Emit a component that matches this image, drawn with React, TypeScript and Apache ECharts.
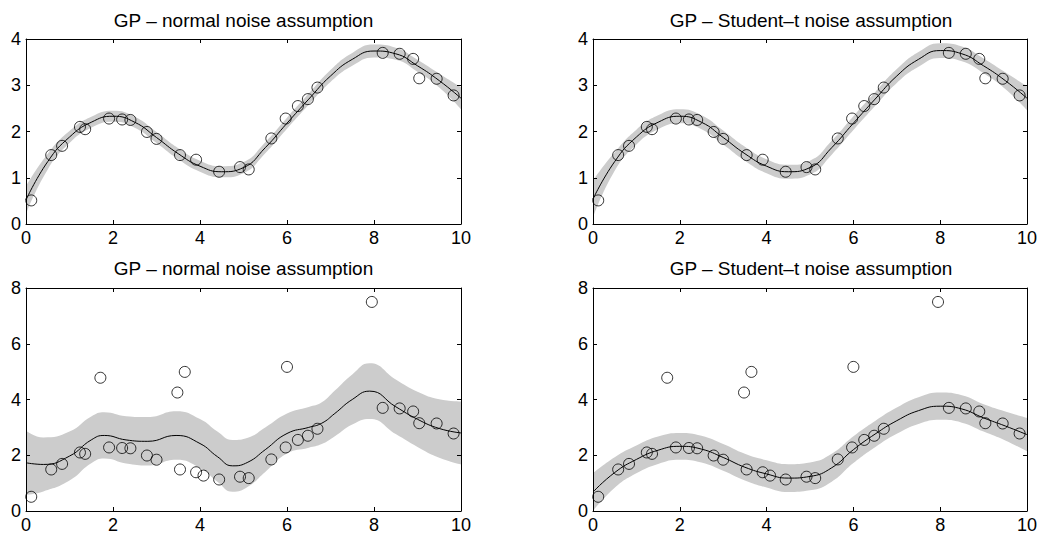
import React, { useEffect, useRef } from "react";
import * as echarts from "echarts";

// ---- data ----
const panelTitles = [
  "GP – normal noise assumption",
  "GP – Student–t noise assumption",
  "GP – normal noise assumption",
  "GP – Student–t noise assumption",
];
const xTicks = [0, 2, 4, 6, 8, 10];
const yTicksTop = [0, 1, 2, 3, 4];
const yTicksBottom = [0, 2, 4, 6, 8];

// observations (clean data set)
const cleanX = [0.12, 0.58, 0.83, 1.24, 1.36, 1.91, 2.21, 2.40, 2.78, 3.00, 3.54, 3.91, 4.44, 4.92, 5.12, 5.64, 5.97, 6.25, 6.48, 6.70, 8.20, 8.59, 8.90, 9.04, 9.44, 9.83];
const cleanY = [0.51, 1.49, 1.69, 2.10, 2.05, 2.28, 2.26, 2.25, 1.99, 1.84, 1.49, 1.39, 1.13, 1.23, 1.18, 1.85, 2.28, 2.55, 2.70, 2.95, 3.70, 3.68, 3.57, 3.15, 3.14, 2.78];
// extra observations in the contaminated data set
const extraX = [4.08];
const extraY = [1.27];
const outlierX = [1.71, 3.48, 3.65, 6.00, 7.95];
const outlierY = [4.78, 4.25, 4.99, 5.17, 7.50];

// posterior curves
const xKnots = [0, 0.5, 1, 1.5, 2, 2.5, 3, 3.5, 4, 4.5, 5, 5.5, 6, 6.5, 7, 7.5, 8, 8.5, 9, 9.5, 10];
const meanTopNormal = [0.52, 1.35, 1.88, 2.2, 2.33, 2.2, 1.87, 1.52, 1.25, 1.13, 1.22, 1.65, 2.18, 2.7, 3.2, 3.56, 3.74, 3.68, 3.42, 3.1, 2.72];
const halfTopNormal = [0.3, 0.17, 0.13, 0.12, 0.12, 0.12, 0.12, 0.12, 0.12, 0.12, 0.12, 0.12, 0.12, 0.12, 0.13, 0.14, 0.14, 0.13, 0.13, 0.15, 0.24];
const meanTopStudent = [0.54, 1.35, 1.88, 2.2, 2.33, 2.2, 1.87, 1.52, 1.25, 1.13, 1.22, 1.65, 2.18, 2.7, 3.2, 3.56, 3.75, 3.68, 3.42, 3.1, 2.72];
const halfTopStudent = [0.4, 0.2, 0.16, 0.15, 0.15, 0.15, 0.15, 0.15, 0.15, 0.15, 0.15, 0.15, 0.15, 0.15, 0.15, 0.16, 0.16, 0.16, 0.16, 0.18, 0.26];

const xKnotsBL = [0, 0.4, 1, 1.5, 1.8, 2.3, 2.8, 3.45, 4, 4.4, 4.75, 5.1, 5.5, 6, 6.5, 6.8, 7.1, 7.5, 7.9, 8.5, 9, 9.5, 10];
const meanBotNormal = [1.73, 1.67, 1.97, 2.55, 2.71, 2.55, 2.5, 2.71, 2.42, 1.95, 1.62, 1.75, 2.2, 2.78, 3.0, 3.15, 3.5, 4.0, 4.3, 3.74, 3.29, 2.96, 2.8];
const halfBotNormal = [1.15, 0.97, 0.88, 0.84, 0.83, 0.85, 0.87, 0.87, 0.88, 0.9, 0.93, 0.88, 0.8, 0.72, 0.73, 0.75, 0.82, 0.9, 1.0, 0.98, 0.99, 1.05, 1.13];

const meanBotStudent = [0.68, 1.38, 1.85, 2.18, 2.32, 2.22, 1.92, 1.57, 1.33, 1.18, 1.24, 1.55, 2.2, 2.76, 3.24, 3.6, 3.76, 3.66, 3.34, 3.05, 2.74];
const halfBotStudent = [0.68, 0.55, 0.5, 0.49, 0.48, 0.48, 0.48, 0.48, 0.49, 0.5, 0.5, 0.5, 0.48, 0.47, 0.47, 0.48, 0.49, 0.49, 0.49, 0.52, 0.6];

// ---- layout ----
const FONT = "'Liberation Sans', Arial, Helvetica, sans-serif";
const grids = [
  { left: 26, top: 39, width: 435, height: 185 },
  { left: 593, top: 39, width: 436, height: 185 },
  { left: 26, top: 288, width: 435, height: 223 },
  { left: 593, top: 288, width: 436, height: 223 },
];
const titleY = [20, 20, 268, 268];

const pairs = (xs: number[], ys: number[]) => xs.map((x, i) => [x, ys[i]]);

function buildOption() {
  const panels = [
    { xs: xKnots, mean: meanTopNormal, half: halfTopNormal, yTicks: yTicksTop, obsX: cleanX, obsY: cleanY },
    { xs: xKnots, mean: meanTopStudent, half: halfTopStudent, yTicks: yTicksTop, obsX: cleanX, obsY: cleanY },
    { xs: xKnotsBL, mean: meanBotNormal, half: halfBotNormal, yTicks: yTicksBottom, obsX: [...cleanX, ...extraX, ...outlierX], obsY: [...cleanY, ...extraY, ...outlierY] },
    { xs: xKnots, mean: meanBotStudent, half: halfBotStudent, yTicks: yTicksBottom, obsX: [...cleanX, ...extraX, ...outlierX], obsY: [...cleanY, ...extraY, ...outlierY] },
  ];

  const xAxis: any[] = [];
  const yAxis: any[] = [];
  const series: any[] = [];
  const axisLine = { show: true, onZero: false, lineStyle: { color: "#000", width: 1 } };
  const axisTick = { show: true, inside: true, length: 4, lineStyle: { color: "#000", width: 1 } };

  panels.forEach((p, i) => {
    const yMax = p.yTicks[p.yTicks.length - 1];
    const yInt = p.yTicks[1] - p.yTicks[0];
    const xInt = xTicks[1] - xTicks[0];
    ["bottom", "top"].forEach((pos, k) => {
      xAxis.push({
        gridIndex: i, type: "value", position: pos,
        min: xTicks[0], max: xTicks[xTicks.length - 1], interval: xInt,
        axisLine, axisTick, splitLine: { show: false },
        axisLabel: { show: k === 0, color: "#000", fontSize: 18, fontFamily: FONT, margin: 5 },
        z: 10,
      });
    });
    ["left", "right"].forEach((pos, k) => {
      yAxis.push({
        gridIndex: i, type: "value", position: pos,
        min: p.yTicks[0], max: yMax, interval: yInt,
        axisLine, axisTick, splitLine: { show: false },
        axisLabel: { show: k === 0, color: "#000", fontSize: 18, fontFamily: FONT, margin: 5 },
        z: 10,
      });
    });
    const upper = p.mean.map((m, j) => m + p.half[j]);
    const lower = p.mean.map((m, j) => m - p.half[j]);
    const common = { xAxisIndex: 2 * i, yAxisIndex: 2 * i, silent: true };
    series.push({
      ...common, type: "line", data: pairs(p.xs, upper), smooth: true, symbol: "none",
      lineStyle: { width: 0, opacity: 0 }, areaStyle: { color: "#cccccc", opacity: 1, origin: "start" }, z: 1,
    });
    series.push({
      ...common, type: "line", data: pairs(p.xs, lower), smooth: true, symbol: "none",
      lineStyle: { width: 0, opacity: 0 }, areaStyle: { color: "#ffffff", opacity: 1, origin: "start" }, z: 2,
    });
    series.push({
      ...common, type: "line", data: pairs(p.xs, p.mean), smooth: true, symbol: "none",
      lineStyle: { color: "#000", width: 1 }, z: 3,
    });
    series.push({
      ...common, type: "scatter", data: pairs(p.obsX, p.obsY), symbol: "circle", symbolSize: 11,
      itemStyle: { color: "rgba(0,0,0,0)", borderColor: "#000", borderWidth: 1 }, z: 4,
    });
  });

  const graphic = panelTitles.map((t, i) => ({
    type: "text",
    x: grids[i].left + grids[i].width / 2,
    y: titleY[i],
    style: { text: t, fill: "#000", fontSize: 19, fontFamily: FONT, textAlign: "center", textVerticalAlign: "middle", verticalAlign: "middle" },
  }));

  return {
    animation: false,
    backgroundColor: "#fff",
    grid: grids.map((g) => ({ ...g, containLabel: false })),
    xAxis, yAxis, series, graphic,
  };
}

export default function App() {
  const ref = useRef<HTMLDivElement>(null);
  useEffect(() => {
    if (!ref.current) return;
    const chart = echarts.init(ref.current, undefined, { renderer: "svg" });
    chart.setOption(buildOption() as any);
    return () => chart.dispose();
  }, []);
  return (
    <div
      ref={ref}
      style={{ position: "fixed", left: 0, top: 0, width: 1040, height: 537, background: "#fff" }}
    />
  );
}
